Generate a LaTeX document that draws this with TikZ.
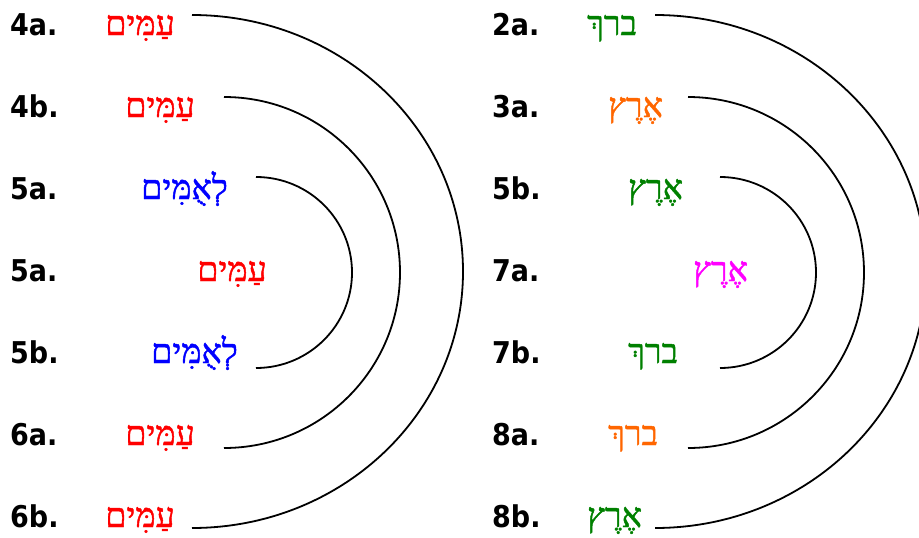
\documentclass[tikz,border=0pt]{standalone}
\usepackage{fontspec}
\TeXXeTstate=1
\newfontfamily\hebfont[Script=Hebrew,FakeBold=1.3]{Liberation Serif}
\newfontfamily\labfont{DejaVu Sans Condensed}
\definecolor{hred}{RGB}{255,0,0}
\definecolor{hblue}{RGB}{0,0,255}
\definecolor{hgreen}{RGB}{0,128,0}
\definecolor{horange}{RGB}{255,102,0}
\definecolor{hmag}{RGB}{255,0,255}
\newcommand{\amim}{עַמִּים}
\newcommand{\leumim}{לְאֻמִּים}
\newcommand{\erets}{אֶרֶץ}
\newcommand{\barakh}{ברךְ}
\tikzset{
  lab/.style={inner sep=0pt, anchor=base west, font=\labfont\bfseries\fontsize{30}{30}\selectfont},
  hebL/.style={inner sep=0pt, anchor=base east, font=\hebfont\fontsize{34}{34}\selectfont},
  hebR/.style={inner sep=0pt, anchor=base west, font=\hebfont\fontsize{34}{34}\selectfont},
  arcline/.style={line width=1.8pt, black},
}
\begin{document}
\begin{tikzpicture}[x=1pt,y=-1pt]
\useasboundingbox (0,0) rectangle (919,538);
% left labels
\node[lab] (l1) at (10,35) {4a.};
\node[lab] (l2) at (10,117) {4b.};
\node[lab] (l3) at (10,199) {5a.};
\node[lab] (l4) at (10,281) {5a.};
\node[lab] (l5) at (10,363) {5b.};
\node[lab] (l6) at (10,445) {6a.};
\node[lab] (l7) at (10,527) {6b.};
% right labels
\node[lab] (r1) at (492,35) {2a.};
\node[lab] (r2) at (492,117) {3a.};
\node[lab] (r3) at (492,199) {5b.};
\node[lab] (r4) at (492,281) {7a.};
\node[lab] (r5) at (492,363) {7b.};
\node[lab] (r6) at (492,445) {8a.};
\node[lab] (r7) at (492,527) {8b.};
% left Hebrew words
\node[hebL, text=hred] (w1) at (175,35) {\beginR\amim\endR};
\node[hebL, text=hred] (w2) at (195,117) {\beginR\amim\endR};
\node[hebL, text=hblue] (w3) at (228,199) {\beginR\leumim\endR};
\node[hebL, text=hred] (w4) at (267,281) {\beginR\amim\endR};
\node[hebL, text=hblue] (w5) at (238,363) {\beginR\leumim\endR};
\node[hebL, text=hred] (w6) at (195,445) {\beginR\amim\endR};
\node[hebL, text=hred] (w7) at (175,527) {\beginR\amim\endR};
% right Hebrew words
\node[hebR, text=hgreen] (v1) at (587,35) {\beginR\barakh\endR};
\node[hebR, text=horange] (v2) at (608,117) {\beginR\erets\endR};
\node[hebR, text=hgreen] (v3) at (628,199) {\beginR\erets\endR};
\node[hebR, text=hmag] (v4) at (693,281) {\beginR\erets\endR};
\node[hebR, text=hgreen] (v5) at (628,363) {\beginR\barakh\endR};
\node[hebR, text=horange] (v6) at (608,445) {\beginR\barakh\endR};
\node[hebR, text=hgreen] (v7) at (587,527) {\beginR\erets\endR};
% arc end points
\coordinate (a1s) at (192,15);
\coordinate (a2s) at (224,97);
\coordinate (a3s) at (256,177);
\coordinate (b1s) at (655,15);
\coordinate (b2s) at (688,97);
\coordinate (b3s) at (720,177);
\draw[arcline] (a1s) arc[start angle=-90, end angle=90, x radius=271, y radius=256.5];
\draw[arcline] (a2s) arc[start angle=-90, end angle=90, x radius=176, y radius=175.5];
\draw[arcline] (a3s) arc[start angle=-90, end angle=90, x radius=96, y radius=95.5];
\draw[arcline] (b1s) arc[start angle=-90, end angle=90, x radius=271, y radius=256.5];
\draw[arcline] (b2s) arc[start angle=-90, end angle=90, x radius=176, y radius=175.5];
\draw[arcline] (b3s) arc[start angle=-90, end angle=90, x radius=96, y radius=95.5];
\end{tikzpicture}
\end{document}
